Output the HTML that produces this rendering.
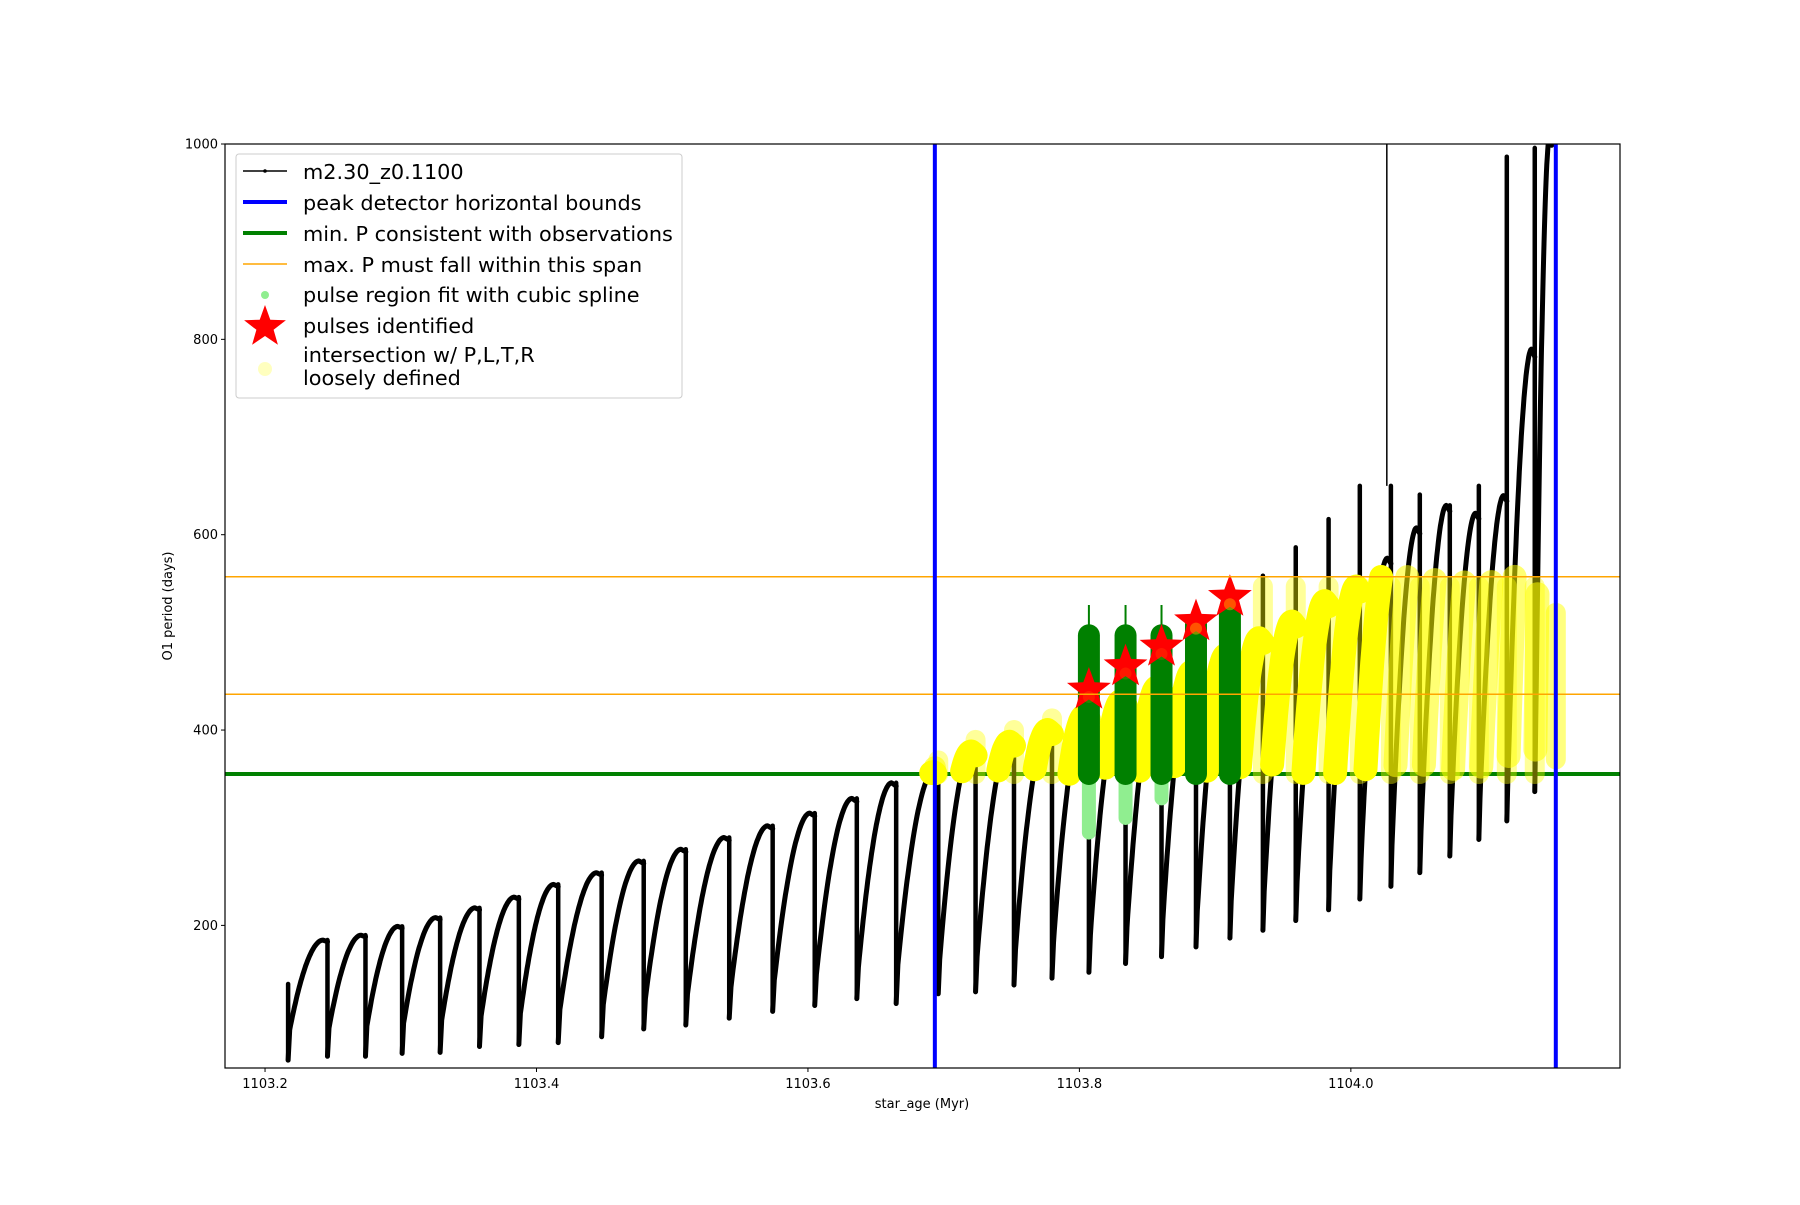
<!DOCTYPE html>
<html><head><meta charset="utf-8">
<style>
html,body{margin:0;padding:0;background:#fff;}
svg text{font-family:"DejaVu Sans","Liberation Sans",sans-serif;}
</style></head>
<body>
<svg id="chart" width="1800" height="1200" viewBox="0 0 1800 1200" xmlns="http://www.w3.org/2000/svg">
<defs><clipPath id="plotclip"><rect x="225" y="144" width="1395" height="924"/></clipPath></defs>
<rect x="0" y="0" width="1800" height="1200" fill="#fff"/>
<g id="plot" clip-path="url(#plotclip)"></g>
<rect x="225" y="144" width="1395" height="924" fill="none" stroke="#000" stroke-width="1.2"/>
<g id="axes"></g>
<text x="922" y="1108" font-size="13" text-anchor="middle">star_age (Myr)</text>
<text transform="translate(172,606) rotate(-90)" font-size="13" text-anchor="middle">O1 period (days)</text>
<g>
<rect x="236" y="154" width="446" height="244" rx="3" fill="#fff" fill-opacity="0.8" stroke="#ccc" stroke-width="1"/>
<g><line x1="243" y1="171" x2="287" y2="171" stroke="#000" stroke-width="1.5"/><circle cx="265" cy="171" r="1.8" fill="#000"/><text x="303" y="179" font-size="20.8">m2.30_z0.1100</text></g>
<g><line x1="243" y1="202" x2="287" y2="202" stroke="#00f" stroke-width="4"/><text x="303" y="210" font-size="20.8">peak detector horizontal bounds</text></g>
<g><line x1="243" y1="233" x2="287" y2="233" stroke="#008000" stroke-width="4"/><text x="303" y="241" font-size="20.8">min. P consistent with observations</text></g>
<g><line x1="243" y1="264" x2="287" y2="264" stroke="#ffa500" stroke-width="1.5"/><text x="303" y="272" font-size="20.8">max. P must fall within this span</text></g>
<g><circle cx="265" cy="295" r="4" fill="#90ee90"/><text x="303" y="302" font-size="20.8">pulse region fit with cubic spline</text></g>
<g><polygon id="legstar" fill="#f00"/><text x="303" y="333" font-size="20.8">pulses identified</text></g>
<g><circle cx="265" cy="369" r="7" fill="#ffff00" fill-opacity="0.25"/><text x="303" y="362" font-size="20.8">intersection w/ P,L,T,R</text><text x="303" y="385" font-size="20.8">loosely defined</text></g>
</g>
</svg>
<script>
// ---- data ----
const dropAge = [1103.217,1103.246,1103.274,1103.301,1103.329,1103.358,1103.387,1103.416,1103.448,1103.479,1103.510,1103.542,1103.574,1103.605,1103.636,1103.665,1103.696,1103.7235,1103.7518,1103.7798,1103.8070,1103.8340,1103.8605,1103.8859,1103.9109,1103.9352,1103.9594,1103.9836,1104.0066,1104.0295,1104.0508,1104.0729,1104.0943,1104.1149,1104.1355];
const endAge = 1104.148;
const troughP = [62,66,66,69,70,76,78,80,86,94,98,105,112,118,125,120,130,132,139,146,152,161,168,178,187,195,205,216,227,240,254,271,288,307,337];
const baseP = [93,95,97,100,103,107,110,114,119,125,130,137,144,150,157,160,165,168,175,182,190,198,206,215,225,235,245,256,268,282,296,312,330,350,380];
const peakP = [185,190,199,208,218,229,242,254,266,278,290,302,315,330,346,357,378,388,400,415,430,444,460,477,494,511,532,547,576,607,630,622,640,790,1010];
const spikeTop = [140,0,0,0,0,0,0,0,0,0,0,0,0,0,0,0,0,0,0,0,0,0,0,0,0,558,587,616,650,650,641,630,650,987,996];
const pulseAge = [1103.8070,1103.8340,1103.8605,1103.8859,1103.9109];
const pulseTop = [497,497,497,508,522];
const thinTop = [528,528,528,0,0];
const splineLow = [295,310,330,355,355];
const starP = [441,465,485,511,536];
const blueAges = [1103.6935,1104.151];
const minP = 355;
const maxSpan = [436.6,557];
const xTicks = [1103.2,1103.4,1103.6,1103.8,1104.0];
const xTickLabels = ["1103.2","1103.4","1103.6","1103.8","1104.0"];
const yTicks = [200,400,600,800,1000];
const yTickLabels = ["200","400","600","800","1000"];

// ---- scales ----
const X0=225,X1=1620,Y0=1068,Y1=144;
const xmin=1103.1705,xmax=1104.1983,ymin=54,ymax=1000;
const sx=a=>X0+(a-xmin)/(xmax-xmin)*(X1-X0);
const sy=p=>Y0-(p-ymin)/(ymax-ymin)*(Y0-Y1);
const NS="http://www.w3.org/2000/svg";
const plot=document.getElementById('plot');
const axes=document.getElementById('axes');
function mk(tag,attrs,parent){const e=document.createElementNS(NS,tag);for(const k in attrs)e.setAttribute(k,attrs[k]);(parent||plot).appendChild(e);return e;}
function shape(u){const v=Math.min(u/0.88,1);let f=1-Math.pow(1-v,1.9);if(u>0.88)f-= (u-0.88)*0.15;return f;}
function cyclePts(i){const t0=dropAge[i],t1=(i+1<dropAge.length)?dropAge[i+1]:endAge;const pts=[];const n=40;for(let k=0;k<=n;k++){const u=k/n;pts.push([t0+(t1-t0)*(0.04+0.96*u),baseP[i]+(peakP[i]-baseP[i])*shape(u)]);}return pts;}
function starPts(cx,cy,R,r){const a=[];for(let k=0;k<10;k++){const ang=-Math.PI/2+k*Math.PI/5;const rr=k%2?r:R;a.push((cx+rr*Math.cos(ang)).toFixed(1)+','+(cy+rr*Math.sin(ang)).toFixed(1));}return a.join(' ');}

const gl=mk('line',{x1:X0,x2:X1,y1:sy(minP),y2:sy(minP),stroke:'#008000','stroke-width':4});


for(let i=0;i<dropAge.length;i++){
  const t=dropAge[i];
  const top=Math.max(spikeTop[i], i>0?peakP[i-1]:0);
  const sp=mk('line',{x1:sx(t),x2:sx(t),y1:sy(Math.min(top,1010)),y2:sy(troughP[i]),stroke:'#000','stroke-width':4.5,'stroke-linecap':'round'});
  
  const pts=cyclePts(i);
  const d='M'+sx(t)+','+sy(troughP[i])+' L'+pts.map(p=>sx(p[0]).toFixed(1)+','+sy(p[1]).toFixed(1)).join(' L');
  const pa=mk('path',{d:d,fill:'none',stroke:'#000','stroke-width':5,'stroke-linejoin':'round','stroke-linecap':'round'});
  
}
const tl=mk('line',{x1:sx(1104.0265),x2:sx(1104.0265),y1:sy(1000),y2:sy(650),stroke:'#000','stroke-width':1.5});


for(let i=15;i<dropAge.length;i++){
  const pts=cyclePts(i).filter(p=>p[1]>=minP&&p[1]<=maxSpan[1]);
  if(pts.length<1)continue;
  const d='M'+pts.map(p=>sx(p[0]).toFixed(1)+','+sy(p[1]).toFixed(1)).join(' L');
  const y=mk('path',{d:pts.length>1?d:d+' l0.1,0',fill:'none',stroke:'#ffff00','stroke-width':24,'stroke-linecap':'round','stroke-linejoin':'round','stroke-opacity':(i>=29?0.55:1)});
  
}
for(let i=16;i<dropAge.length;i++){
  const lo=minP, hi=Math.min(i<20?peakP[i-1]+12:maxSpan[1]-10, maxSpan[1]-10);
  if(i>=20&&i<25)continue;
  const b=mk('line',{x1:sx(dropAge[i]),x2:sx(dropAge[i]),y1:sy(hi),y2:sy(lo),stroke:'#ffff00','stroke-width':20,'stroke-linecap':'round','stroke-opacity':0.4});
  
}
const lb=mk('line',{x1:sx(blueAges[1]),x2:sx(blueAges[1]),y1:sy(520),y2:sy(370),stroke:'#ffff00','stroke-width':20,'stroke-linecap':'round','stroke-opacity':0.5});

const fb=mk('circle',{cx:sx(blueAges[0]),cy:sy(362),r:11,fill:'#ffff00','fill-opacity':0.6});


for(let i=0;i<pulseAge.length;i++){
  const x=sx(pulseAge[i]);
  if(thinTop[i]){const th=mk('line',{x1:x,x2:x,y1:sy(thinTop[i]),y2:sy(minP),stroke:'#008000','stroke-width':2});}
  if(splineLow[i]<minP){const lg=mk('line',{x1:x,x2:x,y1:sy(minP-10),y2:sy(splineLow[i]),stroke:'#90ee90','stroke-width':14,'stroke-linecap':'round'});}
  const g=mk('line',{x1:x,x2:x,y1:sy(pulseTop[i]),y2:sy(minP),stroke:'#008000','stroke-width':22,'stroke-linecap':'round'});
  
}
for(let i=0;i<pulseAge.length;i++){
  const s=mk('polygon',{points:starPts(sx(pulseAge[i]),sy(starP[i]),23,9.5),fill:'#f00'});
  
  const c=mk('circle',{cx:sx(pulseAge[i]),cy:sy(starP[i])+7,r:6,fill:'#ffa500','fill-opacity':(i>=3?0.5:0.15)});
  
}
maxSpan.forEach((p,i)=>{const o=mk('line',{x1:X0,x2:X1,y1:sy(p),y2:sy(p),stroke:'#ffa500','stroke-width':1.5});});
blueAges.forEach((a,i)=>{const b=mk('line',{x1:sx(a),x2:sx(a),y1:Y1,y2:Y0,stroke:'#00f','stroke-width':4});});

xTicks.forEach((v,i)=>{const x=sx(v);
  const t=mk('line',{x1:x,x2:x,y1:Y0,y2:Y0+4,stroke:'#000','stroke-width':1},axes);
  const l=mk('text',{x:x,y:Y0+20,'font-size':13,'text-anchor':'middle'},axes);l.textContent=xTickLabels[i];});
yTicks.forEach((v,i)=>{const y=sy(v);
  const t=mk('line',{x1:X0-4,x2:X0,y1:y,y2:y,stroke:'#000','stroke-width':1},axes);
  const l=mk('text',{x:X0-7,y:y+4.5,'font-size':13,'text-anchor':'end'},axes);l.textContent=yTickLabels[i];});
document.getElementById('legstar').setAttribute('points',starPts(265,327,22,9));
</script>
</body></html>
